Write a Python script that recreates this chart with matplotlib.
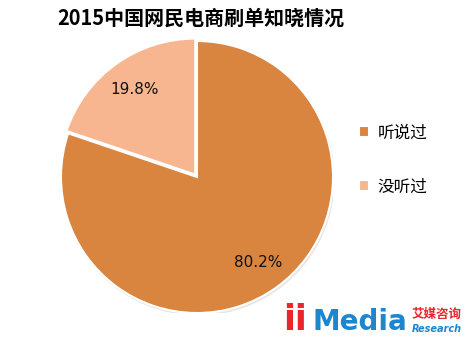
import matplotlib.pyplot as plt
from matplotlib.patches import Circle

plt.rcParams['font.family'] = ['Noto Sans CJK SC', 'DejaVu Sans']

title = '2015中国网民电商刷单知晓情况'
labels = ['听说过', '没听过']
values = [80.2, 19.8]
colors = ['#D9843F', '#F8B690']

W, H = 477, 356
fig = plt.figure(figsize=(W / 100, H / 100), dpi=100)

# pie centred at (197, 177) px, radius 136 px
cx, cy, r = 197, 177, 136
ax = fig.add_axes([(cx - r) / W, 1 - (cy + r) / H, 2 * r / W, 2 * r / H])

# faint shadow under the pie
shadow = Circle((0.008, -0.014), 1.0, color='#e6e6e6', zorder=0)
ax.add_patch(shadow)

wedges, texts, autotexts = ax.pie(
    values, colors=colors, startangle=90, counterclock=False,
    explode=[0, 0.022], autopct='%.1f%%', pctdistance=0.77,
    wedgeprops=dict(edgecolor='white', linewidth=1.5),
    textprops=dict(fontsize=11, color='#111111'))
for w in wedges:
    w.set_clip_on(False)
    w.set_zorder(2)
for t in autotexts:
    t.set_family(['DejaVu Sans'])
    t.set_zorder(3)
ax.set_xlim(-1, 1)
ax.set_ylim(-1, 1)
ax.set_aspect('equal')
ax.axis('off')

fig.text(57 / W, 1 - 18 / H, title, fontsize=14.4, fontweight='bold',
         ha='left', va='center', color='black')

fig.legend(wedges, labels, loc='center left',
           bbox_to_anchor=(344 / W, 1 - 160 / H), frameon=False,
           fontsize=12, handlelength=0.6, handleheight=0.6,
           handletextpad=0.5, labelspacing=2.2)

# iiMedia Research logo
fig.text(283 / W, 1 - 320 / H, 'ii', fontsize=25, fontweight='bold',
         color='#E8262B', ha='left', va='center', family='DejaVu Sans')
fig.text(313 / W, 1 - 322 / H, 'Media', fontsize=20, fontweight='bold',
         color='#1C87CF', ha='left', va='center', family='DejaVu Sans')
fig.text(412 / W, 1 - 314 / H, '艾媒咨询', fontsize=9, fontweight='bold',
         color='#E8262B', ha='left', va='center')
fig.text(412 / W, 1 - 329 / H, 'Research', fontsize=7, style='italic',
         fontweight='bold', color='#1C87CF', ha='left', va='center',
         family='DejaVu Sans')

fig.savefig('out.png', dpi=100)
